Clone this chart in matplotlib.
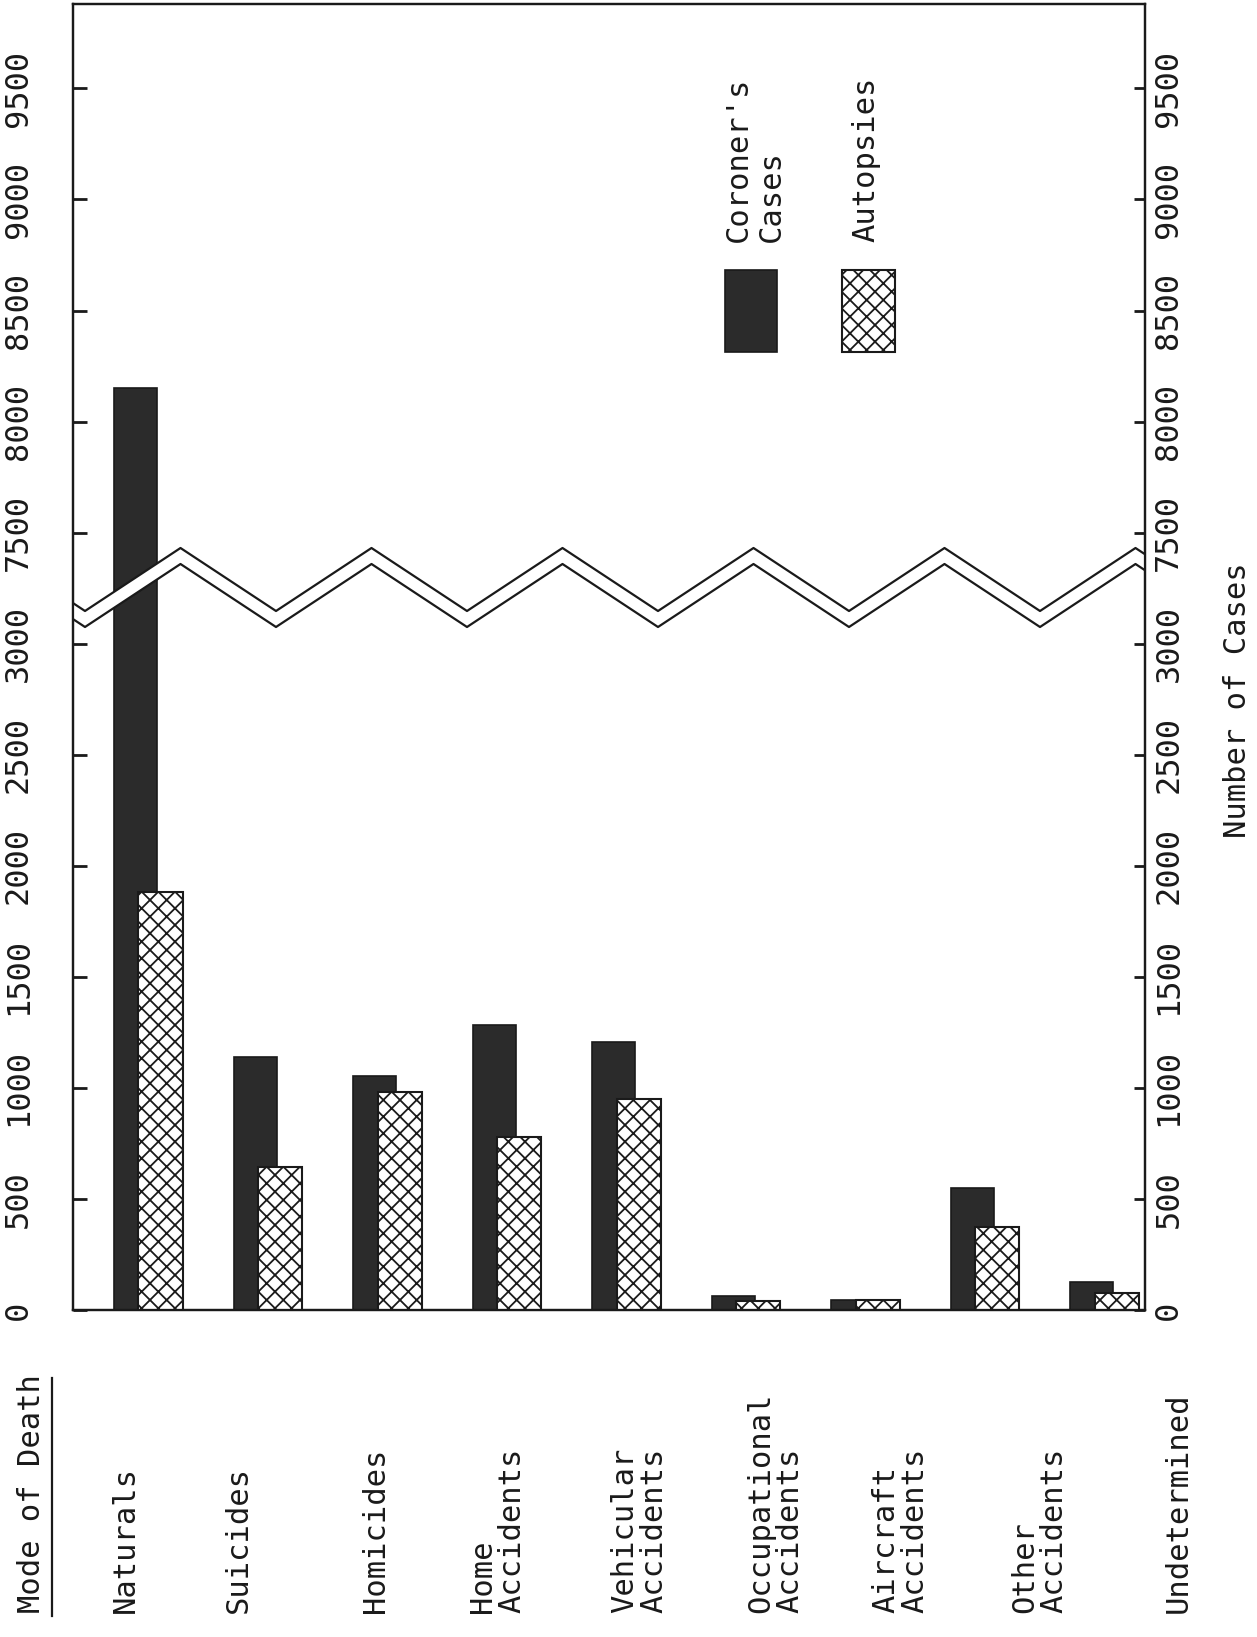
import numpy as np
import matplotlib
matplotlib.use('Agg')
import matplotlib.pyplot as plt
from matplotlib.patches import Rectangle, Polygon
from matplotlib.lines import Line2D

# data (values in number of cases)
categories = ['Naturals', 'Suicides', 'Homicides', 'Home\nAccidents',
              'Vehicular\nAccidents', 'Occupational\nAccidents',
              'Aircraft\nAccidents', 'Other\nAccidents', 'Undetermined']
coroners_cases = [8150, 1140, 1055, 1285, 1205, 65, 45, 550, 126]
autopsies = [1880, 645, 980, 780, 950, 40, 45, 375, 77]
tick_values = [0, 500, 1000, 1500, 2000, 2500, 3000, 7500, 8000, 8500, 9000, 9500]

# where the rotated category names sit (pixels from the left edge)
label_x_px = [125, 238, 376, 497, 639, 775, 900, 1039, 1178]

FONT = 'DejaVu Sans Mono'
INK = '#1a1a1a'
plt.rcParams['font.family'] = FONT
plt.rcParams['hatch.linewidth'] = 1.3


# broken value axis: 3000..7500 squeezed into one tick step
def fwd(v):
    v = np.asarray(v, dtype=float)
    return np.where(v <= 3000, v / 500,
                    np.where(v >= 7500, (v - 4000) / 500, 6 + (v - 3000) / 4500))


def inv(t):
    t = np.asarray(t, dtype=float)
    return np.where(t <= 6, t * 500,
                    np.where(t >= 7, t * 500 + 4000, 3000 + (t - 6) * 4500))


W, H = 1257, 1637
fig = plt.figure(figsize=(W / 100, H / 100), dpi=100)
ax = fig.add_axes([73 / W, 327 / H, 1072 / W, 1306 / H])
ax.set_yscale('function', functions=(fwd, inv))

x = np.arange(len(categories))
ax.bar(x, coroners_cases, width=0.36, color='#2b2b2b', edgecolor=INK, lw=1.2, zorder=2)
ax.bar(x + 0.21, autopsies, width=0.37, color='white', edgecolor=INK,
       hatch='xx', lw=1.5, zorder=3)

ax.set_xlim(-0.523, 8.447)
ax.set_ylim(0, 9880)
ax.set_xticks([])
ax.set_yticks(tick_values)
ax.set_yticklabels([str(v) for v in tick_values], rotation=90, va='center')
ax.tick_params(axis='y', direction='in', length=10, width=2, pad=28,
               labelsize=23, colors=INK)
for s in ax.spines.values():
    s.set_linewidth(1.6)
    s.set_color(INK)

ax2 = ax.twinx()
ax2.set_yscale('function', functions=(fwd, inv))
ax2.set_ylim(0, 9880)
ax2.set_yticks(tick_values)
ax2.set_yticklabels([str(v) for v in tick_values], rotation=90, va='center')
ax2.tick_params(axis='y', direction='in', length=8, width=2, pad=6,
                labelsize=23, colors=INK)
for s in ax2.spines.values():
    s.set_linewidth(1.6)
    s.set_color(INK)

# zigzag break marks (double line, white between)
k = np.arange(-1, 13)
xs = (85 + 95.5 * k - 73) / 1072
up_px = np.where(k % 2 == 0, 611, 548)
upper = (1310 - up_px) / 1306
lower = (1310 - (up_px + 16)) / 1306
band = Polygon(np.column_stack([np.r_[xs, xs[::-1]], np.r_[upper, lower[::-1]]]),
               closed=True, facecolor='white', edgecolor='none',
               transform=ax.transAxes, zorder=5)
ax.add_patch(band)
ax.plot(xs, upper, color=INK, lw=1.6, transform=ax.transAxes, zorder=6)
ax.plot(xs, lower, color=INK, lw=1.6, transform=ax.transAxes, zorder=6)

# category labels, rotated, reading bottom to top
for name, px in zip(categories, label_x_px):
    fig.text(px / W, 24 / H, name, rotation=90, rotation_mode='anchor',
             ha='left', va='center', fontsize=22, linespacing=1.0, color=INK)

fig.text(31 / W, 24 / H, 'Mode of Death', rotation=90, rotation_mode='anchor',
         ha='left', va='center', fontsize=22, color=INK)
fig.add_artist(Line2D([52 / W, 52 / W], [(H - 1616) / H, (H - 1378) / H],
                      color=INK, lw=1.6))

fig.text(1237 / W, (H - 700) / H, 'Number of Cases', rotation=90,
         ha='center', va='center', fontsize=22, color=INK)

# legend, drawn by hand since it is rotated
fig.add_artist(Rectangle((725 / W, (H - 352) / H), 52 / W, 82 / H,
                         transform=fig.transFigure, facecolor='#2b2b2b',
                         edgecolor=INK, lw=1.2))
fig.add_artist(Rectangle((842 / W, (H - 352) / H), 53 / W, 82 / H,
                         transform=fig.transFigure, facecolor='white',
                         edgecolor=INK, hatch='xx', lw=1.5))
fig.text(755 / W, (H - 242) / H, "Coroner's\nCases", rotation=90, rotation_mode='anchor',
         ha='left', va='center', fontsize=22, linespacing=1.15, color=INK)
fig.text(866 / W, (H - 242) / H, 'Autopsies', rotation=90, rotation_mode='anchor',
         ha='left', va='center', fontsize=22, color=INK)

fig.savefig('out.png', dpi=100)
